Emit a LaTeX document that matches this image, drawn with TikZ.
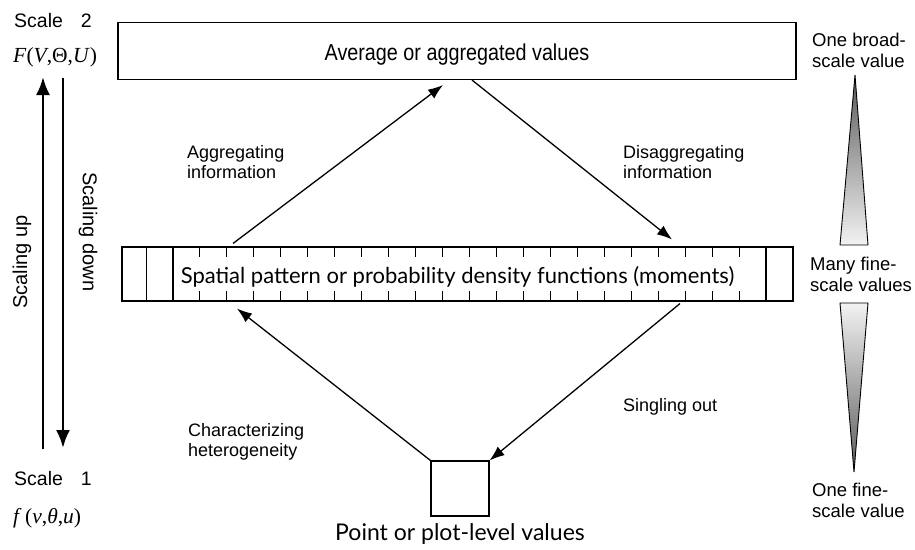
\documentclass[tikz,border=0pt]{standalone}
\usepackage{fontspec}
\setmainfont{Liberation Sans}
\newfontfamily\gillfont{Lato}
\newfontfamily\narrowfont[FakeStretch=0.86]{Liberation Sans}
\newfontfamily\timesfont{Liberation Serif}
\usetikzlibrary{positioning,arrows.meta,calc}
\tikzset{
  valbox/.style    = {draw, line width=1.1pt, inner sep=0pt, align=center},
  flow/.style      = {-{Latex[length=15pt,width=11pt]}, line width=1.3pt},
  scaleflow/.style = {-{Latex[length=18pt,width=14pt]}, line width=2.6pt},
  celline/.style   = {line width=0.7pt},
  lbl/.style       = {align=left, font=\fontsize{18}{20}\selectfont, inner sep=0pt, anchor=north west},
  sidelbl/.style   = {align=left, font=\fontsize{18.5}{20.5}\selectfont, inner sep=0pt, anchor=north west},
  scalelbl/.style  = {inner sep=0pt, anchor=base west, font=\fontsize{19.5}{22}\selectfont},
  wedge/.style     = {draw, line width=0.9pt},
}
\begin{document}
\begin{tikzpicture}[x=1pt, y=-1pt]
  \useasboundingbox (0,0) rectangle (915,549);
  % the three levels
  \node[valbox, minimum width=678pt, minimum height=57pt, text height=20pt, text depth=2pt,
        font=\narrowfont\fontsize{23}{26}\selectfont] (avg) at (457,51) {Average or aggregated values};
  \node[valbox, minimum width=671pt, minimum height=54pt, text height=20pt, text depth=2pt,
        font=\gillfont\fontsize{22}{25}\selectfont] (bar) at (457.5,274) {Spatial pattern or probability density functions (moments)};
  \node[valbox, minimum width=58pt, minimum height=55pt] (pt) at (460,488.5) {};
  \node[font=\gillfont\fontsize{23}{26}\selectfont, inner sep=0pt, anchor=base] (ptlbl) at (460,540) {Point or plot-level values};

  % cells of the bar
  \draw[celline] (bar.north west -| 146,0) -- (bar.south west -| 146,0);
  \draw[line width=1.1pt] (bar.north west -| 173,0) -- (bar.south west -| 173,0);
  \draw[line width=1.1pt] (bar.north west -| 766,0) -- (bar.south west -| 766,0);
  \foreach \k in {0,...,20} {
    \draw[celline] (bar.north -| {199+27*\k},0) -- ++(0,11);
    \draw[celline] (bar.south -| {199+27*\k},0) -- ++(0,-11);
  }

  % information flows
  \draw[flow] ([yshift=3pt]bar.north -| 233,0) -- ([yshift=-5pt]avg.south -| 443,0);
  \draw[flow] (avg.south -| 472,0) -- ([yshift=7pt]bar.north -| 672,0);
  \draw[flow] (pt.north west) -- ([yshift=-7pt]bar.south -| 237,0);
  \draw[flow] ([yshift=-2pt]bar.south -| 680,0) -- (pt.north east);

  \node[lbl] (agg) at (187,145) {Aggregating\\information};
  \node[lbl] (disagg) at (623,145) {Disaggregating\\information};
  \node[lbl] (charac) at (188,423) {Characterizing\\heterogeneity};
  \node[lbl] (single) at (623,398) {Singling out};

  % scales on the left
  \node[scalelbl] (sc2) at (14,27) {Scale\hspace{18pt}2};
  \node[scalelbl, font=\timesfont\fontsize{21.5}{24}\selectfont] (f2) at (13,62) {\textit{F}(\textit{V},Θ,\textit{U})};
  \node[scalelbl] (sc1) at (14,485) {Scale\hspace{18pt}1};
  \node[scalelbl, font=\timesfont\fontsize{21.5}{24}\selectfont] (f1) at (13,523) {\textit{f}\,(\textit{v},\textit{θ},\textit{u})};

  \coordinate (upbot) at (43,449);
  \coordinate (uptop) at (43,77);
  \coordinate (dntop) at (63,78);
  \coordinate (dnbot) at (63,448);
  \draw[scaleflow] (upbot) -- (uptop);
  \draw[scaleflow] (dntop) -- (dnbot);
  \node[rotate=90, inner sep=0pt, font=\fontsize{20}{22}\selectfont] (up) at (22,262) {Scaling up};
  \node[rotate=-90, inner sep=0pt, font=\fontsize{20}{22}\selectfont] (down) at (88,232) {Scaling down};

  % number of values on the right
  \node[sidelbl] (broad) at (812,33) {One broad-\\scale value};
  \node[sidelbl] (many) at (810,257) {Many fine-\\scale values};
  \node[sidelbl] (fine) at (812,483) {One fine-\\scale value};
  \shadedraw[wedge, top color=black!65, bottom color=black!5] (855,75) -- (868,245) -- (840,245) -- cycle;
  \shadedraw[wedge, top color=black!5, bottom color=black!65] (840,303) -- (868,303) -- (854,472) -- cycle;
\end{tikzpicture}
\end{document}
